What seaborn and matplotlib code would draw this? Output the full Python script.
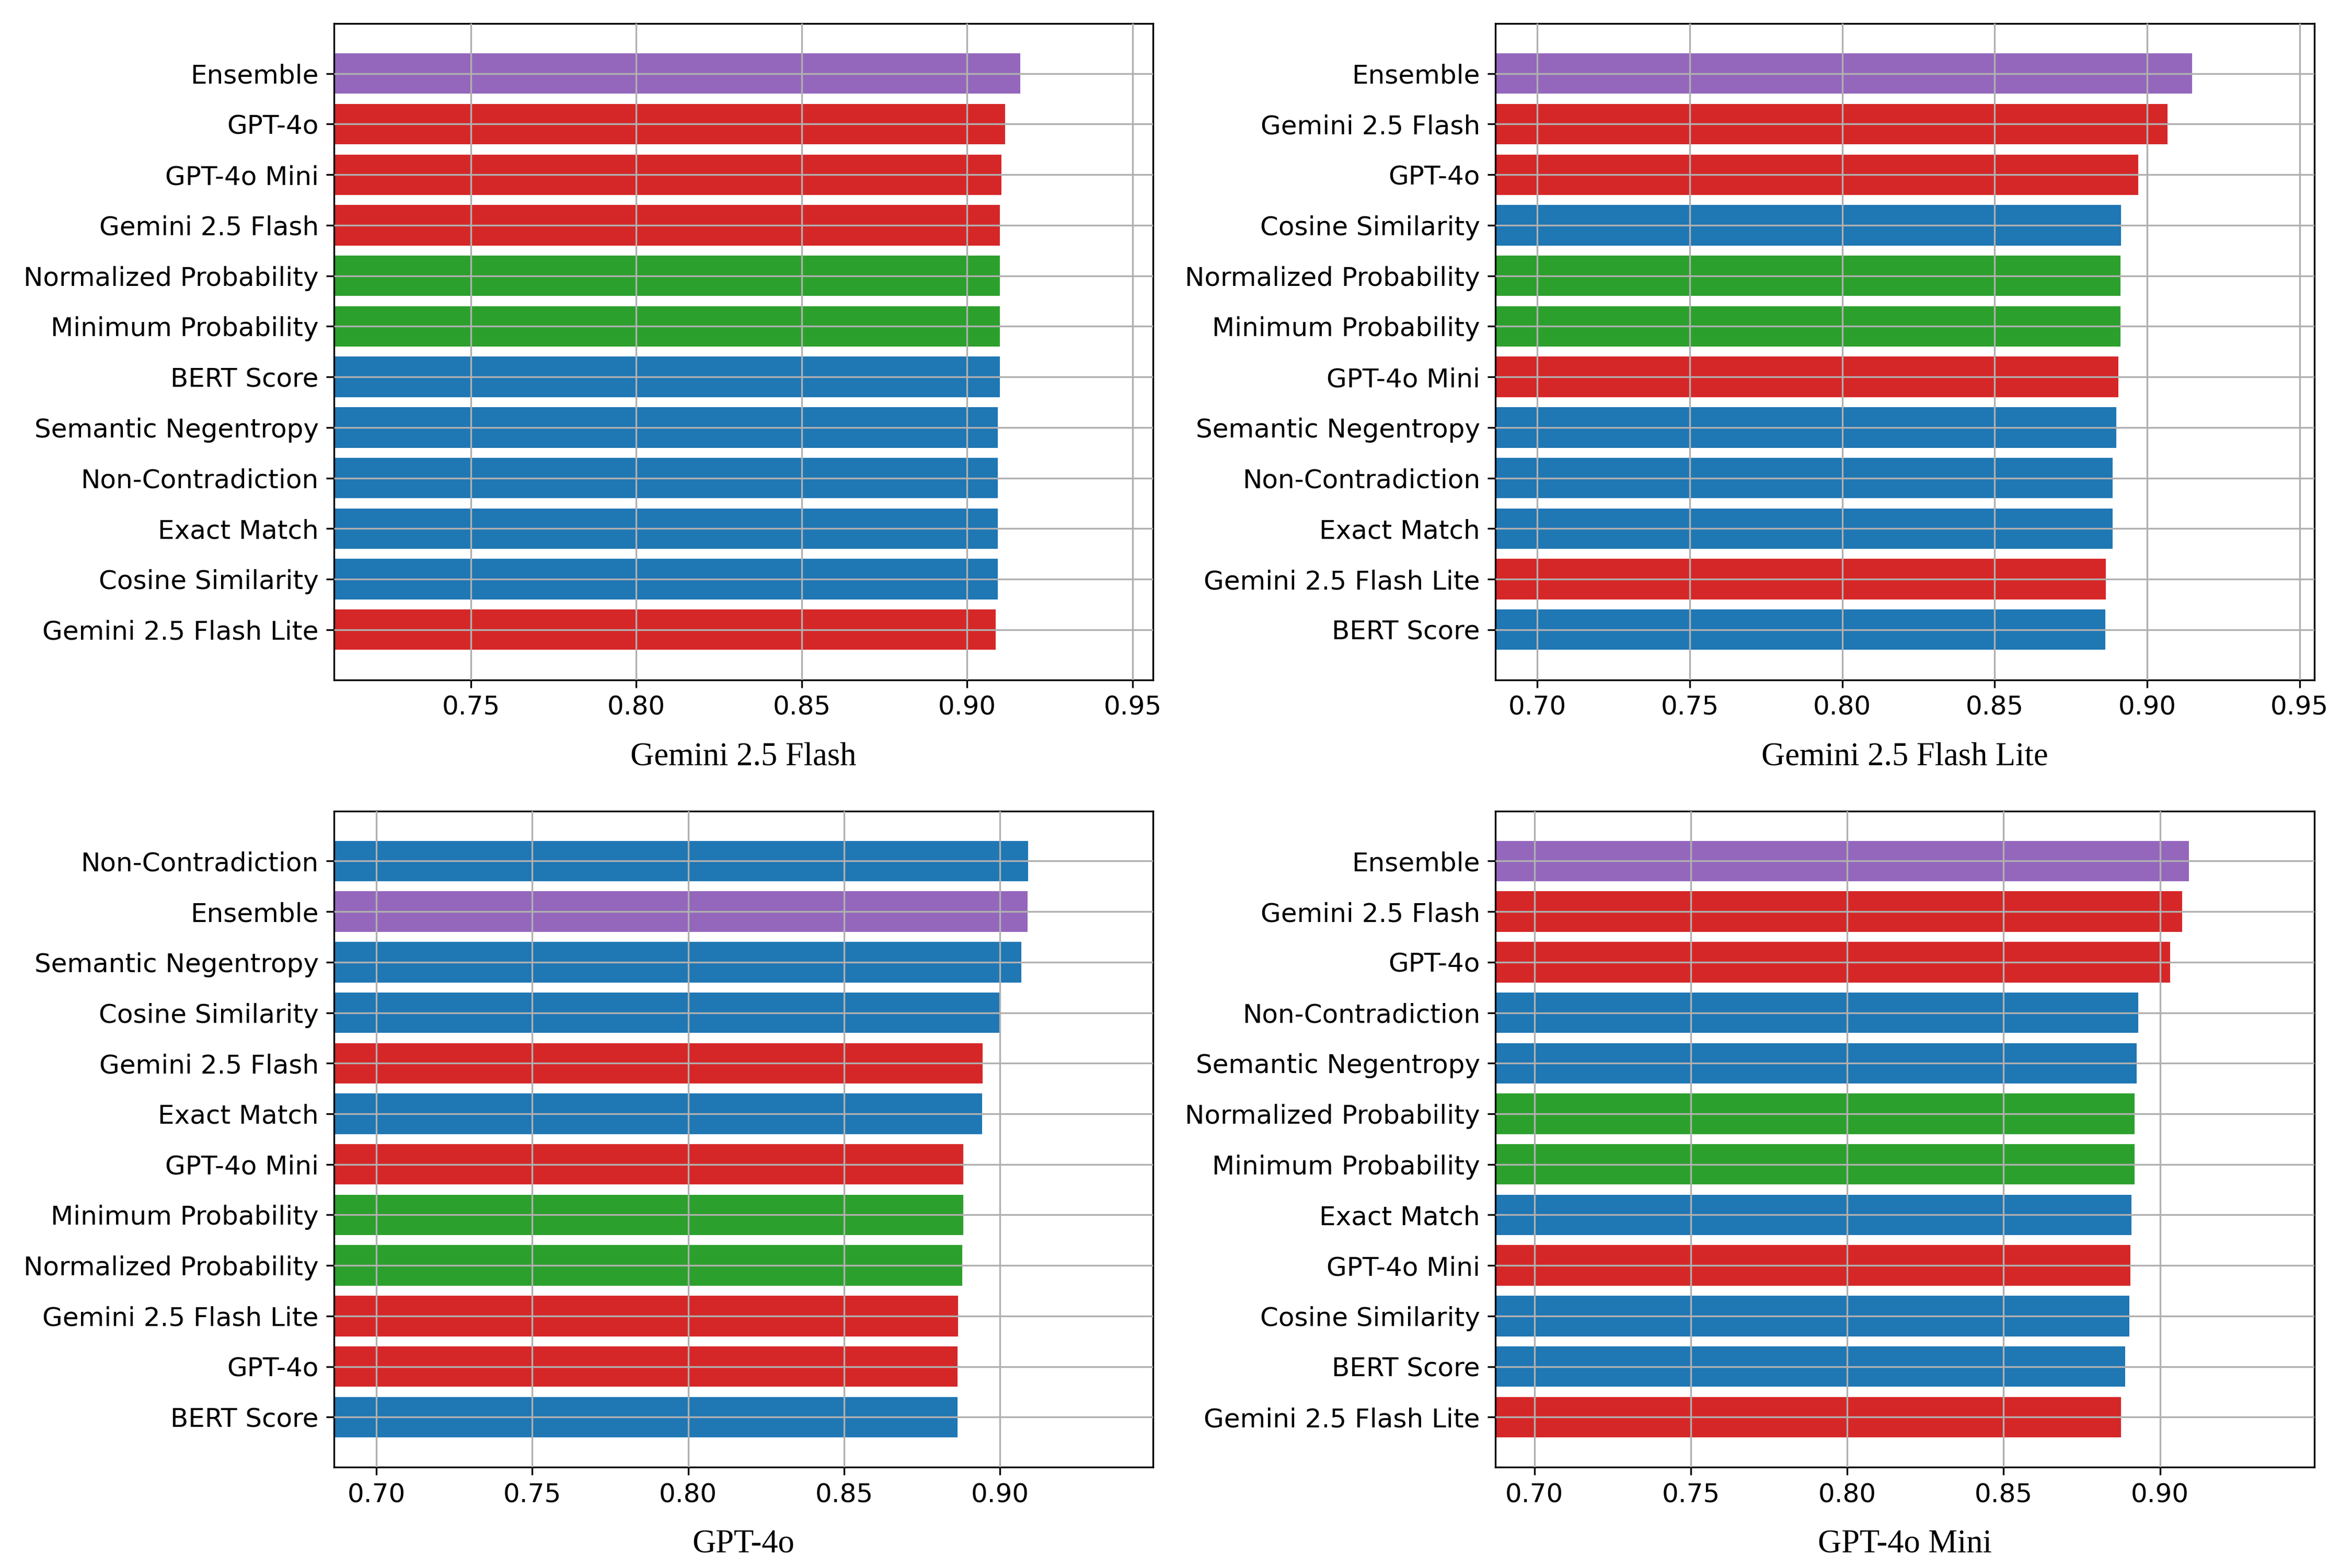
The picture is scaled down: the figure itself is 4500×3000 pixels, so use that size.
import numpy as np
import pandas as pd
import matplotlib
matplotlib.use("Agg")
import matplotlib.pyplot as plt
import seaborn as sns

# Scorer groups and their colours
judge_models = ["GPT-4o", "GPT-4o Mini", "Gemini 2.5 Flash", "Gemini 2.5 Flash Lite"]
white_box = ["Normalized Probability", "Minimum Probability"]
black_box = ["BERT Score", "Semantic Negentropy", "Non-Contradiction", "Exact Match", "Cosine Similarity"]
group_colors = {"ensemble": "#9467bd", "judge": "#d62728", "white": "#2ca02c", "black": "#1f77b4"}

# Panel 1: Gemini 2.5 Flash
flash_labels = ["Ensemble", "GPT-4o", "GPT-4o Mini", "Gemini 2.5 Flash", "Normalized Probability",
                "Minimum Probability", "BERT Score", "Semantic Negentropy", "Non-Contradiction",
                "Exact Match", "Cosine Similarity", "Gemini 2.5 Flash Lite"]
flash_scores = [0.9161, 0.9114, 0.9103, 0.9099, 0.9098, 0.9098, 0.9098, 0.9093, 0.9093, 0.9093, 0.9093, 0.9086]

# Panel 2: Gemini 2.5 Flash Lite
lite_labels = ["Ensemble", "Gemini 2.5 Flash", "GPT-4o", "Cosine Similarity", "Normalized Probability",
               "Minimum Probability", "GPT-4o Mini", "Semantic Negentropy", "Non-Contradiction",
               "Exact Match", "Gemini 2.5 Flash Lite", "BERT Score"]
lite_scores = [0.9148, 0.9067, 0.8971, 0.8914, 0.8912, 0.8912, 0.8906, 0.8898, 0.8887, 0.8887, 0.8865, 0.8862]

# Panel 3: GPT-4o
gpt4o_labels = ["Non-Contradiction", "Ensemble", "Semantic Negentropy", "Cosine Similarity", "Gemini 2.5 Flash",
                "Exact Match", "GPT-4o Mini", "Minimum Probability", "Normalized Probability",
                "Gemini 2.5 Flash Lite", "GPT-4o", "BERT Score"]
gpt4o_scores = [0.9090, 0.9088, 0.9069, 0.9000, 0.8945, 0.8942, 0.8882, 0.8882, 0.8879, 0.8866, 0.8864, 0.8864]

# Panel 4: GPT-4o Mini
mini_labels = ["Ensemble", "Gemini 2.5 Flash", "GPT-4o", "Non-Contradiction", "Semantic Negentropy",
               "Normalized Probability", "Minimum Probability", "Exact Match", "GPT-4o Mini",
               "Cosine Similarity", "BERT Score", "Gemini 2.5 Flash Lite"]
mini_scores = [0.9093, 0.9070, 0.9032, 0.8930, 0.8925, 0.8919, 0.8919, 0.8909, 0.8905, 0.8902, 0.8889, 0.8875]

panels = [
    ("Gemini 2.5 Flash", flash_labels, flash_scores),
    ("Gemini 2.5 Flash Lite", lite_labels, lite_scores),
    ("GPT-4o", gpt4o_labels, gpt4o_scores),
    ("GPT-4o Mini", mini_labels, mini_scores),
]


def scorer_group(name):
    if name == "Ensemble":
        return "ensemble"
    if name in judge_models:
        return "judge"
    if name in white_box:
        return "white"
    return "black"


fig, axes = plt.subplots(2, 2, figsize=(15, 10), dpi=300)

for ax, (title, labels, scores) in zip(axes.flat, panels):
    df = pd.DataFrame({"scorer": labels, "score": scores})
    df["group"] = df["scorer"].map(scorer_group)
    sns.barplot(data=df, x="score", y="scorer", hue="group", palette=group_colors,
                dodge=False, saturation=1, width=0.8, legend=False, ax=ax, orient="h")
    n = len(labels)
    ax.set_ylim(n - 1 + 0.99, -0.99)
    ax.set_xlim(min(scores) - 0.2, max(scores) + 0.04)
    ax.grid(True, color="#b0b0b0", linewidth=0.8)
    ax.set_axisbelow(False)
    ax.set_ylabel("")
    ax.set_xlabel(title, fontsize=15, family="Liberation Serif", labelpad=10)
    ax.tick_params(labelsize=12)

plt.tight_layout()
# more room between the two rows, as in the original
plt.subplots_adjust(top=0.985, bottom=0.0643, hspace=0.2)
plt.savefig("out.png", dpi=300)
